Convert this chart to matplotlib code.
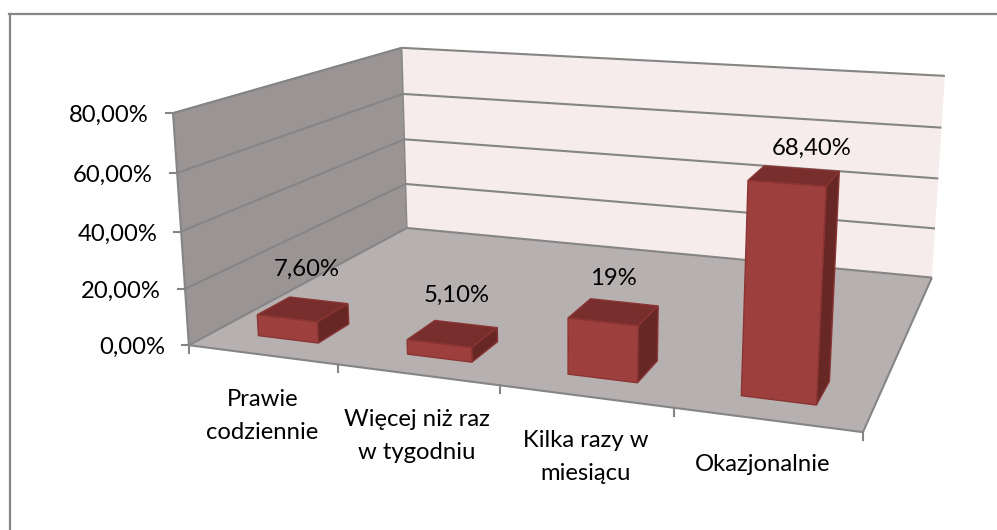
import numpy as np
import matplotlib
matplotlib.use("Agg")
import matplotlib.pyplot as plt
from matplotlib.patches import Polygon

categories = ["Prawie\ncodziennie", "Więcej niż raz\nw tygodniu", "Kilka razy w\nmiesiącu", "Okazjonalnie"]
values = [7.6, 5.1, 19.0, 68.4]
value_labels = ["7,60%", "5,10%", "19%", "68,40%"]
y_ticks = [0, 20, 40, 60, 80]
y_tick_labels = ["0,00%", "20,00%", "40,00%", "60,00%", "80,00%"]

# (x, depth, value) -> pixel, used to fit the camera of the 3D box
ANCHORS = [
    ((0, 0, 0), (189, 345)), ((4, 0, 0), (863, 432)),
    ((4, 1, 0), (932, 278)), ((0, 1, 0), (407, 228)),
    ((0, 0, 80), (173, 113)), ((0, 1, 80), (402, 48)),
    ((4, 1, 80), (945, 76)), ((0, 1, 40), (404, 139)),
    ((4, 1, 40), (938, 178)), ((0, 0, 40), (181, 232)),
]
BAR_W = 0.41
D0, D1 = 0.10, 0.23
# pixel nudges of the labels, excel places them its own way
VALUE_NUDGE = [(-12, -31), (-9, -29), (-11, -24), (10, -20)]
CAT_NUDGE = [0, -1, 1, -4]


def fit_camera(anchors):
    rows = []
    for (x, d, v), (px, py) in anchors:
        p = [x, d, v, 1]
        rows.append(p + [0, 0, 0, 0] + [-px * c for c in p])
        rows.append([0, 0, 0, 0] + p + [-py * c for c in p])
    return np.linalg.svd(np.array(rows, float))[2][-1].reshape(3, 4)


CAM = fit_camera(ANCHORS)


def proj(x, d, v):
    q = CAM @ np.array([x, d, v, 1.0])
    return q[0] / q[2], q[1] / q[2]


plt.rcParams["font.family"] = ["Lato", "DejaVu Sans"]
fig = plt.figure(figsize=(9.97, 5.30), dpi=100)
ax = fig.add_axes([0, 0, 1, 1])
ax.set_xlim(0, 997)
ax.set_ylim(530, 0)
ax.axis("off")
FS = 17.2
GRID = "#858585"


def quad(pts, fc, ec="none", lw=0, z=1):
    ax.add_patch(Polygon([proj(*p) for p in pts], closed=True, fc=fc, ec=ec, lw=lw, zorder=z))


def line(a, b, z=2, c=GRID, lw=1.5):
    pa, pb = proj(*a), proj(*b)
    ax.plot([pa[0], pb[0]], [pa[1], pb[1]], color=c, lw=lw, zorder=z, solid_capstyle="butt")


# frame, only left and top are in the picture
ax.plot([9.5, 9.5], [530, 14], color="#868686", lw=1.6)
ax.plot([9, 997], [14, 14], color="#868686", lw=1.6)

# walls and floor
quad([(0, 0, 0), (0, 1, 0), (0, 1, 80), (0, 0, 80)], "#9A9594")
quad([(0, 1, 0), (4, 1, 0), (4, 1, 80), (0, 1, 80)], "#F6ECEC")
quad([(0, 0, 0), (4, 0, 0), (4, 1, 0), (0, 1, 0)], "#B7B0B0")

for t, lab in zip(y_ticks, y_tick_labels):
    line((0, 0, t), (0, 1, t))
    line((0, 1, t), (4, 1, t))
    front = proj(0, 0, t)
    ax.plot([front[0] - 7, front[0]], [front[1], front[1]], color=GRID, lw=1.5, zorder=2)
    ax.text(front[0] - 24, front[1] + 2.5, lab, ha="right", va="center", fontsize=FS, color="black")
line((0, 0, 0), (0, 0, 80))
line((0, 0, 80), (0, 1, 80), lw=1.2)
line((0, 1, 0), (0, 1, 80), lw=1)
line((0, 0, 0), (4, 0, 0), z=3)
line((4, 0, 0), (4, 1, 0), z=3)
for i in range(5):
    p = proj(i, 0, 0)
    ax.plot([p[0], p[0]], [p[1], p[1] + 8], color=GRID, lw=1.5, zorder=3)

# bars, back faces are hidden
for i, v in enumerate(values):
    x0, x1 = i + 0.5 - BAR_W / 2, i + 0.5 + BAR_W / 2
    ec = "#8A3533"
    quad([(x0, D1, v), (x1, D1, v), (x1, D0, v), (x0, D0, v)], "#772E2C", ec, 1, 5)
    quad([(x1, D0, 0), (x1, D1, 0), (x1, D1, v), (x1, D0, v)], "#672725", ec, 1, 5)
    quad([(x0, D0, 0), (x1, D0, 0), (x1, D0, v), (x0, D0, v)], "#9C3F3D", ec, 1, 5)
    top = proj(i + 0.5, D1, v)
    dx, dy = VALUE_NUDGE[i]
    ax.text(top[0] + dx, top[1] + dy, value_labels[i], ha="center", va="center", fontsize=FS, zorder=6)

for i, lab in enumerate(categories):
    p = proj(i + 0.5, 0, 0)
    ax.text(p[0] + CAT_NUDGE[i], p[1] + 34, lab, ha="center", va="top", fontsize=FS, linespacing=1.7, zorder=6)

fig.savefig("out.png", dpi=100)
